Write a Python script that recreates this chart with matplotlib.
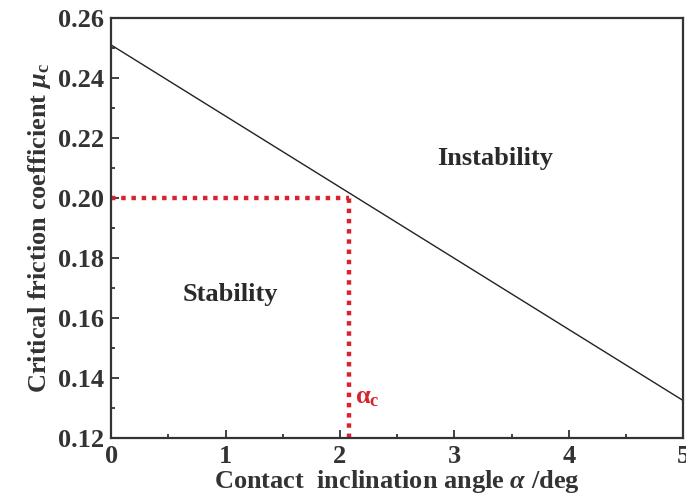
import numpy as np
import matplotlib
matplotlib.use('Agg')
import matplotlib.pyplot as plt
from matplotlib.ticker import MultipleLocator

plt.rcParams['font.family'] = 'Liberation Serif'
plt.rcParams['font.weight'] = 'bold'
plt.rcParams['axes.labelweight'] = 'bold'
plt.rcParams['mathtext.fontset'] = 'custom'
plt.rcParams['mathtext.rm'] = 'Liberation Serif:bold'
plt.rcParams['mathtext.it'] = 'Liberation Serif:italic:bold'
plt.rcParams['mathtext.bf'] = 'Liberation Serif:bold'

# critical friction coefficient vs contact inclination angle
angle = [0.0, 5.0]
mu_c = [0.251, 0.1325]

# critical point
alpha_c = 2.08
mu_crit = 0.20

fig = plt.figure(figsize=(6.86, 4.99), dpi=100)
ax = fig.add_axes([0.162, 0.122, 0.834, 0.842])

ax.plot(angle, mu_c, color='#222222', lw=1.0)

red = '#d8232e'
ax.plot([0, alpha_c], [mu_crit, mu_crit], color=red, lw=3.2, ls=(0, (1, 1.3)))
ax.plot([alpha_c, alpha_c], [0.12, mu_crit], color=red, lw=3.2, ls=(0, (1, 1.3)))

ax.text(3.36, 0.2133, 'Instability', fontsize=19, ha='center', va='center', color='#2a2a2a')
ax.text(1.04, 0.1677, 'Stability', fontsize=19, ha='center', va='center', color='#2a2a2a')
ax.text(2.13, 0.1335, r'$\mathrm{\alpha}_{\mathrm{c}}$', fontsize=19, ha='left', va='center', color=red)

ax.set_xlim(0, 5)
ax.set_ylim(0.12, 0.26)
ax.xaxis.set_major_locator(MultipleLocator(1))
ax.xaxis.set_minor_locator(MultipleLocator(0.5))
ax.yaxis.set_major_locator(MultipleLocator(0.02))
ax.yaxis.set_minor_locator(MultipleLocator(0.01))
ax.yaxis.set_major_formatter(plt.FormatStrFormatter('%.2f'))

ax.tick_params(which='both', direction='in', top=False, right=False,
               width=1.3, labelsize=19, colors='#333333')
ax.tick_params(which='major', length=6, pad=5)
ax.tick_params(which='minor', length=3)
for s in ax.spines.values():
    s.set_linewidth(1.6)
    s.set_color('#333333')

ax.set_xlabel(r'Contact  inclination angle $\alpha$ /deg', fontsize=19, color='#333333', labelpad=0)
ax.set_ylabel(r'Critical friction coefficient $\mu_{\mathrm{c}}$', fontsize=19, color='#333333', labelpad=4)

fig.savefig('out.png', dpi=100)
